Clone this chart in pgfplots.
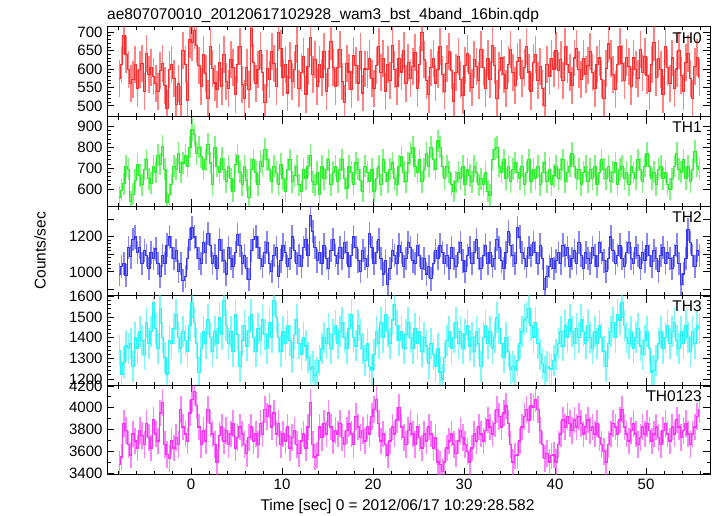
\documentclass[border=0pt]{standalone}
\usepackage{pgfplots}
\pgfplotsset{compat=1.18}
\usepackage{pgfplotstable}
\usepackage{fontspec}
\setmainfont{Liberation Sans}

\definecolor{cR}{RGB}{255,45,45}
\definecolor{cG}{RGB}{40,240,40}
\definecolor{cB}{RGB}{55,55,245}
\definecolor{cC}{RGB}{40,245,245}
\definecolor{cM}{RGB}{250,50,250}

% TH0
\pgfplotstableread[row sep=\\]{y\\%
575\\612\\690\\640\\598\\560\\572\\612\\548\\598\\615\\540\\642\\585\\605\\580\\%
560\\538\\595\\615\\555\\492\\598\\612\\575\\505\\560\\505\\650\\612\\515\\680\\%
672\\705\\665\\610\\552\\640\\588\\520\\660\\602\\562\\545\\618\\552\\640\\565\\%
548\\625\\605\\530\\612\\662\\558\\520\\604\\545\\710\\618\\560\\598\\650\\590\\%
510\\602\\572\\648\\615\\552\\700\\655\\578\\612\\535\\622\\565\\598\\665\\548\\%
590\\635\\530\\608\\685\\585\\625\\552\\612\\578\\648\\540\\602\\675\\605\\552\\%
604\\652\\565\\508\\615\\592\\545\\636\\610\\562\\648\\535\\600\\598\\628\\575\\%
548\\610\\660\\590\\628\\540\\612\\570\\665\\598\\552\\628\\592\\650\\560\\618\\%
575\\608\\645\\548\\612\\698\\625\\570\\530\\605\\628\\562\\598\\660\\585\\540\\%
615\\648\\596\\512\\590\\635\\572\\528\\610\\642\\588\\550\\625\\608\\570\\652\\%
605\\548\\628\\572\\665\\610\\520\\596\\630\\585\\548\\612\\652\\590\\555\\620\\%
632\\575\\604\\660\\592\\540\\618\\640\\570\\608\\548\\500\\612\\580\\628\\600\\%
650\\596\\625\\570\\662\\612\\590\\555\\630\\655\\598\\572\\628\\585\\610\\648\\%
590\\548\\612\\630\\572\\520\\602\\668\\628\\585\\545\\612\\660\\616\\570\\632\\%
608\\552\\630\\598\\575\\652\\590\\635\\582\\540\\612\\672\\576\\628\\598\\530\\%
662\\605\\560\\630\\548\\600\\650\\582\\540\\618\\642\\575\\520\\608\\632\\578\\%
}\tA
% TH1
\pgfplotstableread[row sep=\\]{y\\%
562\\595\\625\\710\\695\\540\\575\\642\\718\\665\\620\\695\\740\\650\\628\\710\\%
680\\762\\718\\805\\695\\535\\575\\620\\710\\695\\770\\680\\725\\762\\710\\800\\%
885\\860\\770\\800\\755\\695\\740\\815\\725\\620\\800\\710\\680\\748\\695\\635\\%
710\\650\\590\\718\\762\\680\\620\\710\\642\\560\\695\\740\\680\\620\\732\\710\\%
790\\740\\695\\635\\710\\680\\620\\718\\650\\590\\695\\740\\635\\665\\710\\620\\%
590\\695\\650\\710\\762\\635\\620\\680\\575\\710\\650\\695\\740\\620\\680\\710\\%
635\\695\\740\\650\\605\\710\\680\\620\\725\\695\\642\\590\\710\\680\\635\\695\\%
590\\650\\710\\620\\740\\680\\635\\695\\725\\650\\620\\710\\755\\680\\635\\725\\%
770\\800\\710\\680\\740\\635\\695\\770\\710\\800\\740\\695\\830\\800\\710\\650\\%
710\\680\\620\\590\\635\\680\\650\\710\\620\\695\\665\\635\\710\\680\\620\\650\\%
620\\680\\590\\570\\740\\790\\800\\710\\680\\740\\650\\710\\635\\695\\725\\680\\%
650\\710\\620\\680\\740\\635\\695\\650\\710\\620\\680\\725\\635\\695\\620\\665\\%
710\\650\\695\\740\\635\\680\\710\\770\\710\\650\\695\\620\\680\\710\\635\\695\\%
650\\710\\620\\680\\740\\695\\650\\710\\635\\680\\725\\620\\695\\710\\650\\680\\%
620\\710\\680\\650\\740\\695\\635\\710\\770\\710\\650\\680\\620\\695\\710\\650\\%
680\\620\\600\\650\\710\\770\\695\\680\\740\\650\\710\\635\\695\\780\\710\\695\\%
}\tB
% TH2
\pgfplotstableread[row sep=\\]{y\\%
985\\1032\\1048\\980\\1138\\1085\\1182\\1198\\1108\\1138\\1048\\1122\\1092\\1018\\1108\\1078\\%
1130\\1048\\972\\1092\\1048\\1152\\1198\\1138\\1078\\1122\\1002\\1048\\950\\972\\1078\\1182\\%
1250\\1198\\1138\\1078\\1048\\1168\\1108\\1220\\1152\\1048\\1092\\1018\\1182\\1122\\1062\\988\\%
1138\\1078\\1032\\1108\\1212\\1152\\1048\\1092\\1018\\958\\1122\\1182\\1200\\1138\\1078\\1032\\%
1108\\1168\\1048\\1002\\1092\\1138\\972\\1062\\1152\\1108\\1032\\1078\\1198\\1122\\1048\\1092\\%
1032\\1138\\1182\\1092\\1320\\1228\\1138\\1062\\1108\\1048\\1152\\1078\\1018\\1122\\1182\\1092\\%
1048\\1138\\1078\\1168\\1108\\1032\\1092\\1198\\1138\\1062\\1002\\1122\\1078\\1032\\1220\\1138\\%
1048\\1108\\1182\\1078\\988\\1062\\930\\1018\\1122\\1092\\1048\\1152\\1108\\1032\\1078\\1168\\%
1138\\1062\\1048\\1152\\1092\\1018\\1078\\988\\1032\\960\\1048\\1122\\1078\\1152\\1108\\1048\\%
1092\\1018\\1138\\1078\\1032\\1108\\1168\\1062\\1002\\1092\\1138\\1048\\1108\\1182\\1078\\1018\\%
1092\\1152\\1048\\1108\\1032\\1078\\1182\\1138\\1062\\1018\\1108\\1228\\1152\\1092\\1048\\1250\\%
1198\\1108\\1078\\1032\\1138\\1092\\1168\\1108\\1048\\1152\\1078\\900\\972\\1032\\1078\\1018\\%
1062\\1108\\1048\\1152\\1092\\1138\\1032\\1078\\1122\\1048\\1168\\1092\\1018\\1108\\1078\\1048\\%
1138\\1092\\1032\\1168\\1108\\1062\\1002\\1078\\1198\\1122\\1048\\1092\\1152\\1078\\1032\\1108\\%
1168\\1078\\1048\\1138\\1092\\1018\\1108\\1062\\1152\\1092\\1032\\1122\\1078\\1002\\1092\\1138\\%
1048\\1108\\1078\\1018\\1092\\1152\\1048\\930\\988\\1078\\1240\\1168\\1092\\1032\\1122\\1092\\%
}\tC
% TH3
\pgfplotstableread[row sep=\\]{y\\%
1340\\1220\\1280\\1360\\1346\\1374\\1262\\1402\\1346\\1430\\1388\\1318\\1472\\1374\\1430\\1570\\%
1444\\1346\\1542\\1402\\1304\\1220\\1388\\1374\\1444\\1514\\1402\\1346\\1430\\1388\\1332\\1458\\%
1570\\1472\\1374\\1230\\1346\\1430\\1374\\1486\\1402\\1332\\1430\\1374\\1500\\1416\\1580\\1458\\%
1374\\1430\\1332\\1514\\1416\\1262\\1388\\1458\\1360\\1430\\1514\\1402\\1332\\1444\\1388\\1486\\%
1416\\1346\\1472\\1402\\1580\\1500\\1402\\1332\\1430\\1374\\1458\\1388\\1304\\1416\\1486\\1374\\%
1318\\1402\\1360\\1304\\1248\\1262\\1215\\1230\\1290\\1346\\1402\\1374\\1444\\1346\\1416\\1458\\%
1374\\1430\\1472\\1402\\1346\\1444\\1514\\1402\\1360\\1458\\1416\\1346\\1290\\1374\\1262\\1240\\%
1318\\1430\\1374\\1472\\1402\\1514\\1430\\1374\\1486\\1560\\1458\\1388\\1430\\1346\\1416\\1472\\%
1402\\1346\\1444\\1374\\1430\\1332\\1402\\1360\\1276\\1374\\1318\\1262\\1346\\1234\\1200\\1304\\%
1388\\1430\\1346\\1402\\1472\\1374\\1430\\1346\\1416\\1458\\1360\\1402\\1332\\1430\\1374\\1262\\%
1402\\1458\\1374\\1430\\1346\\1402\\1500\\1444\\1374\\1304\\1402\\1332\\1248\\1262\\1240\\1290\\%
1374\\1430\\1486\\1500\\1542\\1458\\1402\\1472\\1374\\1318\\1276\\1234\\1262\\1250\\1248\\1290\\%
1318\\1374\\1430\\1360\\1458\\1402\\1486\\1430\\1374\\1444\\1402\\1486\\1430\\1374\\1458\\1402\\%
1346\\1430\\1374\\1458\\1402\\1332\\1262\\1374\\1430\\1472\\1402\\1514\\1486\\1570\\1458\\1402\\%
1374\\1430\\1346\\1402\\1444\\1360\\1318\\1388\\1430\\1346\\1234\\1240\\1290\\1374\\1430\\1346\\%
1402\\1458\\1374\\1430\\1472\\1388\\1346\\1430\\1374\\1458\\1402\\1332\\1430\\1374\\1458\\1444\\%
}\tD
% TH0123
\pgfplotstableread[row sep=\\]{y\\%
3480\\3550\\3856\\3792\\3664\\3568\\3760\\3696\\3632\\3792\\3744\\3664\\3856\\3728\\3632\\3888\\%
3760\\3696\\3952\\4050\\3664\\3570\\3536\\3696\\3632\\3728\\3664\\3984\\3824\\3760\\3696\\3952\\%
4080\\4150\\4020\\3824\\3664\\3792\\3696\\3984\\3856\\3760\\3664\\3504\\3744\\3824\\3696\\3792\\%
3664\\3760\\3856\\3632\\3728\\3824\\3760\\3664\\3584\\3728\\3824\\3696\\3760\\3664\\3856\\3760\\%
3984\\3920\\4016\\3824\\3952\\3760\\3856\\3664\\3760\\3696\\3824\\3632\\3728\\3792\\3664\\3584\\%
3696\\3760\\3632\\3824\\4050\\3664\\3550\\3568\\3824\\3728\\3856\\3760\\3952\\3824\\3696\\3792\\%
3760\\3856\\3728\\3664\\3792\\3856\\3760\\3664\\3920\\3824\\3728\\3792\\3696\\3824\\3760\\3920\\%
3984\\4080\\3856\\3696\\3760\\3664\\3568\\3696\\3824\\3760\\3888\\4000\\3824\\3728\\3664\\3792\\%
3856\\3760\\3664\\3824\\3728\\3632\\3760\\3696\\3824\\3760\\3632\\3728\\3504\\3480\\3420\\3504\\%
3632\\3696\\3760\\3664\\3584\\3696\\3792\\3728\\3664\\3600\\3504\\3632\\3760\\3696\\3824\\3760\\%
3696\\3792\\3888\\3824\\3760\\3856\\3984\\3920\\3824\\3952\\4016\\3856\\3664\\3504\\3560\\3568\\%
3696\\3824\\3920\\3984\\3888\\4016\\4000\\4080\\3984\\3792\\3664\\3536\\3580\\3504\\3560\\3568\\%
3504\\3664\\3760\\3888\\3824\\3920\\3856\\3792\\3888\\3824\\3920\\3856\\3760\\3824\\3888\\3792\\%
3824\\3760\\3856\\3728\\3664\\3600\\3504\\3664\\3760\\3856\\3824\\3760\\3888\\3984\\3824\\3760\\%
3696\\3792\\3856\\3760\\3664\\3728\\3824\\3760\\3856\\3792\\3696\\3760\\3824\\3728\\3664\\3792\\%
3856\\3760\\3696\\3824\\3760\\3888\\3824\\3728\\3792\\3856\\3760\\3664\\3760\\3824\\3920\\3984\\%
}\tE

\pgfplotsset{
  panel/.style={
    scale only axis, width=603pt, height=89.6pt, anchor=south west,
    xmin=-9.23, xmax=57.03,
    xtick={-10,0,...,60}, minor x tick num=4, xticklabels={},
    tick align=inside,
    major tick length=7pt, minor tick length=3.5pt,
    axis line style={black, line width=1pt},
    every tick/.style={black, line width=0.8pt},
    tick label style={font=\fontsize{15}{17}\selectfont},
    /pgf/number format/assume math mode=true,
    /pgf/number format/1000 sep={},
    scaled ticks=false,
    yticklabel style={xshift=-1pt},
  },
  lc/.style 2 args={const plot mark mid, color=#1, line width=1.1pt, mark=none,
    error bars/.cd, y dir=both, y fixed=#2, error mark=none,
    error bar style={line width=1.6pt, color=#1, opacity=0.6}},
}

\begin{document}
\begin{tikzpicture}
\path[use as bounding box] (0,0) rectangle (717pt,516pt);

\begin{axis}[panel, at={(107pt,399.4pt)}, ymin=471, ymax=714,
  ytick={500,550,...,700}, minor y tick num=4]
\addplot[lc={cR}{50}] table[x expr=\coordindex*0.25-7.875, y=y] \tA;
\node[anchor=east, font=\fontsize{15.5}{17}\selectfont] at (rel axis cs:0.992,0.88) {TH0};
\end{axis}

\begin{axis}[panel, at={(107pt,309.8pt)}, ymin=518, ymax=947,
  ytick={600,700,800,900}, minor y tick num=4]
\addplot[lc={cG}{53}] table[x expr=\coordindex*0.25-7.875, y=y] \tB;
\node[anchor=east, font=\fontsize{15.5}{17}\selectfont] at (rel axis cs:0.992,0.88) {TH1};
\end{axis}

\begin{axis}[panel, at={(107pt,220.2pt)}, ymin=864, ymax=1373,
  ytick={1000,1200}, minor y tick num=9,
  extra y ticks={900,1100,1300}, extra y tick labels={}]
\addplot[lc={cB}{66}] table[x expr=\coordindex*0.25-7.875, y=y] \tC;
\node[anchor=east, font=\fontsize{15.5}{17}\selectfont] at (rel axis cs:0.992,0.88) {TH2};
\end{axis}

\begin{axis}[panel, at={(107pt,130.6pt)}, ymin=1169, ymax=1603,
  ytick={1200,1300,...,1600}, minor y tick num=4]
\addplot[lc={cC}{75}] table[x expr=\coordindex*0.25-7.875, y=y] \tD;
\node[anchor=east, font=\fontsize{15.5}{17}\selectfont] at (rel axis cs:0.992,0.88) {TH3};
\end{axis}

\begin{axis}[panel, at={(107pt,41pt)}, ymin=3385, ymax=4205,
  ytick={3400,3600,...,4200}, minor y tick num=1,
  xticklabels={,0,10,20,30,40,50,}]
\addplot[lc={cM}{122}] table[x expr=\coordindex*0.25-7.875, y=y] \tE;
\node[anchor=east, font=\fontsize{15.5}{17}\selectfont] at (rel axis cs:0.992,0.88) {TH0123};
\end{axis}

\node[anchor=base west, font=\fontsize{15.5}{17}\selectfont, inner sep=0pt] at (107pt,496.5pt) {ae807070010\_20120617102928\_wam3\_bst\_4band\_16bin.qdp};
\node[rotate=90, font=\fontsize{15.5}{17}\selectfont] at (40pt,265pt) {Counts/sec};
\node[anchor=base, font=\fontsize{15.5}{17}\selectfont, inner sep=0pt] at (397.5pt,5.5pt) {Time [sec] 0 = 2012/06/17 10:29:28.582};
\end{tikzpicture}
\end{document}
